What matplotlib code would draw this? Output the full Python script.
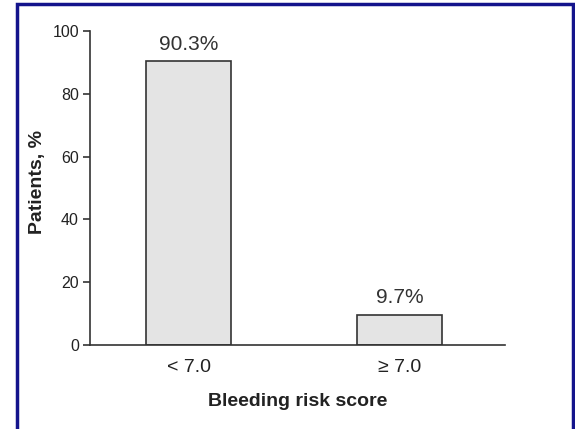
import matplotlib.pyplot as plt
from matplotlib.patches import Rectangle

# --- data ---
categories = ['< 7.0', '\u2265 7.0']
patients_pct = [90.3, 9.7]
bar_labels = ['90.3%', '9.7%']
y_ticks = [0, 20, 40, 60, 80, 100]

plt.rcParams['font.family'] = ['Liberation Sans', 'DejaVu Sans']

W, H = 575, 429
fig = plt.figure(figsize=(W / 100, H / 100), dpi=100)
ax = fig.add_axes([90 / W, (H - 345) / H, (505 - 90) / W, (345 - 31) / H])

x = range(len(categories))
ax.bar(x, patients_pct, width=0.4, color='#e4e4e4', edgecolor='#333333', linewidth=1.2)
for xi, v, lab in zip(x, patients_pct, bar_labels):
    ax.text(xi, v + 2.5, lab, ha='center', va='bottom', fontsize=15, color='#333333')

ax.set_xlim(-0.467, 1.5)
ax.set_ylim(0, 100)
ax.set_yticks(y_ticks)
ax.set_xticks(list(x))
ax.set_xticklabels(categories, fontsize=14, color='#222222')
ax.tick_params(axis='x', length=0, pad=10)
ax.tick_params(axis='y', length=5, width=1.2, colors='#333333', labelsize=11.5,
               labelcolor='#222222', pad=3)

for s in ['top', 'right']:
    ax.spines[s].set_visible(False)
for s in ['left', 'bottom']:
    ax.spines[s].set_color('#333333')
    ax.spines[s].set_linewidth(1.2)

ax.set_ylabel('Patients, %', fontsize=14, fontweight='bold', color='#222222')
ax.yaxis.set_label_coords((46 - 90) / 415, 0.52)
ax.set_xlabel('Bleeding risk score', fontsize=14, fontweight='bold', color='#222222', labelpad=12)

# blue frame around the figure
fig.patches.append(Rectangle((17 / W, -0.05), (573 - 17) / W, (H - 4) / H + 0.05,
                             transform=fig.transFigure, fill=False,
                             edgecolor='#14148c', linewidth=2.5))

fig.savefig('out.png', dpi=100)
